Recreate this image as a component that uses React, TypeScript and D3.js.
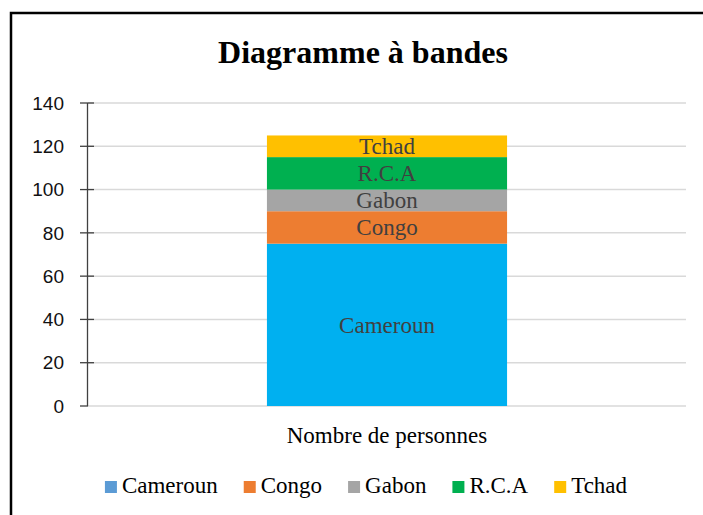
import React, { useEffect, useRef } from 'react';
import * as d3 from 'd3';

// Data
const categories = ['Nombre de personnes'];
const countries = ['Cameroun', 'Congo', 'Gabon', 'R.C.A', 'Tchad'];
const values = [75, 15, 10, 15, 10];
const barColors = ['#00B0F0', '#ED7D31', '#A5A5A5', '#00B050', '#FFC000'];
const legendColors = ['#5B9BD5', '#ED7D31', '#A5A5A5', '#00B050', '#FFC000'];
const yTicks = [0, 20, 40, 60, 80, 100, 120, 140];

const W = 703;
const H = 515;

const App: React.FC = () => {
  const svgRef = useRef<SVGSVGElement | null>(null);

  useEffect(() => {
    const svg = d3.select(svgRef.current);
    svg.selectAll('*').remove();

    const serif = '"Liberation Serif", "Times New Roman", serif';
    const sans = '"Liberation Sans", Arial, sans-serif';

    // outer frame (runs off the right and bottom edges)
    svg.append('rect')
      .attr('x', 11).attr('y', 13)
      .attr('width', 760).attr('height', 560)
      .attr('fill', '#fff').attr('stroke', '#000').attr('stroke-width', 2.5);

    // title
    svg.append('text')
      .attr('x', 363).attr('y', 63)
      .attr('text-anchor', 'middle')
      .style('font-family', serif).style('font-weight', 'bold').style('font-size', '32px')
      .text('Diagramme à bandes');

    const x = d3.scaleBand<string>().domain(categories).range([88, 686]).padding(0.427);
    const y = d3.scaleLinear().domain([0, 140]).range([406, 103]);

    // gridlines
    svg.append('g').selectAll('line').data(yTicks).join('line')
      .attr('x1', 88).attr('x2', 686)
      .attr('y1', d => y(d)).attr('y2', d => y(d))
      .attr('stroke', '#D9D9D9').attr('stroke-width', 1.5);

    // stacked bar
    const stackData = [Object.fromEntries(countries.map((c, i) => [c, values[i]]))];
    const series = d3.stack<any>().keys(countries)(stackData);
    const bars = svg.append('g');
    series.forEach((s, i) => {
      const seg = s[0];
      bars.append('rect')
        .attr('x', x(categories[0])!)
        .attr('width', x.bandwidth())
        .attr('y', y(seg[1]))
        .attr('height', y(seg[0]) - y(seg[1]))
        .attr('fill', barColors[i]);
      bars.append('text')
        .attr('x', x(categories[0])! + x.bandwidth() / 2)
        .attr('y', (y(seg[0]) + y(seg[1])) / 2)
        .attr('dy', '0.35em')
        .attr('text-anchor', 'middle')
        .attr('fill', '#404040')
        .style('font-family', serif).style('font-size', '23px')
        .text(countries[i]);
    });

    // y axis with cross ticks
    const axis = svg.append('g');
    axis.append('line')
      .attr('x1', 87.5).attr('x2', 87.5).attr('y1', y(140)).attr('y2', y(0))
      .attr('stroke', '#404040').attr('stroke-width', 1.3);
    axis.selectAll('line.tick').data(yTicks).join('line')
      .attr('class', 'tick')
      .attr('x1', 80).attr('x2', d => (d === 0 ? 88 : 94))
      .attr('y1', d => y(d)).attr('y2', d => y(d))
      .attr('stroke', '#404040').attr('stroke-width', 1.3);
    axis.selectAll('text').data(yTicks).join('text')
      .attr('x', 64).attr('y', d => y(d)).attr('dy', '0.35em')
      .attr('text-anchor', 'end')
      .attr('fill', '#111')
      .style('font-family', sans).style('font-size', '19px')
      .text(d => String(d));

    // category label
    svg.append('text')
      .attr('x', x(categories[0])! + x.bandwidth() / 2).attr('y', 443)
      .attr('text-anchor', 'middle')
      .style('font-family', serif).style('font-size', '23px')
      .text(categories[0]);

    // legend
    const legend = svg.append('g');
    const items = countries.map((c, i) => {
      const g = legend.append('g');
      g.append('rect').attr('width', 12).attr('height', 12).attr('y', -12).attr('fill', legendColors[i]);
      const t = g.append('text').attr('x', 17).attr('y', 0)
        .style('font-family', serif).style('font-size', '23px').text(c);
      const w = 17 + (t.node() as SVGTextElement).getComputedTextLength();
      return { g, w };
    });
    const gap = 26;
    const total = d3.sum(items, d => d.w) + gap * (items.length - 1);
    let cx = 366 - total / 2;
    items.forEach(it => {
      it.g.attr('transform', `translate(${cx},493)`);
      cx += it.w + gap;
    });
  }, []);

  return (
    <svg ref={svgRef} width={W} height={H}
      style={{ position: 'absolute', left: 0, top: 0, background: '#fff' }} />
  );
};

export default App;
